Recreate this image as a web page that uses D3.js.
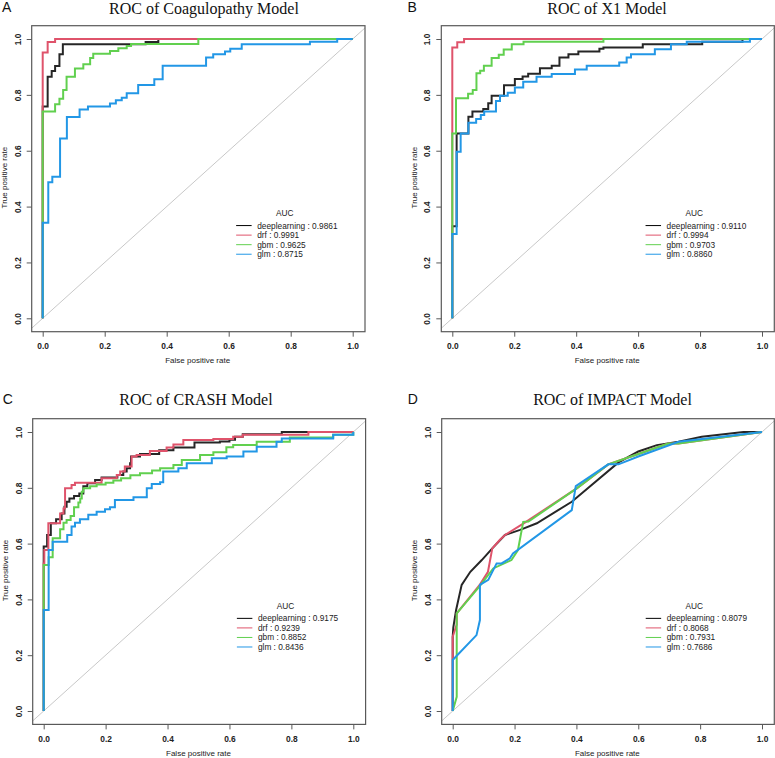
<!DOCTYPE html>
<html><head><meta charset="utf-8">
<script src="https://cdn.jsdelivr.net/npm/d3@7"></script>
<style>body{margin:0;background:#fff}svg{display:block}</style>
</head><body>
<svg id="c" width="775" height="758"></svg>
<script>
// ---------------- data ----------------
const models = ["deeplearning", "drf", "gbm", "glm"];
const modelColors = ["#000000", "#DF536B", "#61D04F", "#2297E6"];
const panelLetters = ["A", "B", "C", "D"];
const panelTitles = ["ROC of Coagulopathy Model", "ROC of X1 Model", "ROC of CRASH Model", "ROC of IMPACT Model"];
const aucA = [0.9861, 0.9991, 0.9625, 0.8715];
const aucB = [0.9110, 0.9994, 0.9703, 0.8860];
const aucC = [0.9175, 0.9239, 0.8852, 0.8436];
const aucD = [0.8079, 0.8068, 0.7931, 0.7686];
const tickValues = [0, 0.2, 0.4, 0.6, 0.8, 1.0];
const tickLabels = ["0.0", "0.2", "0.4", "0.6", "0.8", "1.0"];
const xLabel = "False positive rate";
const yLabel = "True positive rate";
const legendTitle = "AUC";

// ROC points [fpr, tpr]; panels A-C are step curves (right, then up)
const A_deeplearning = [[0,0],[0,.758],[.016,.865],[.029,.885],[.04,.903],[.054,.945],[.065,.981],[.332,.989],[.373,1],[1,1]];
const A_drf = [[0,0],[0,.952],[.016,.989],[.04,1],[1,1]];
const A_gbm = [[0,0],[0,.74],[.04,.766],[.054,.786],[.066,.817],[.077,.865],[.104,.894],[.131,.91],[.153,.932],[.163,.947],[.217,.957],[.244,.967],[.271,.975],[.285,.982],[.502,1],[1,1]];
const A_glm = [[0,0],[0,.342],[.018,.487],[.031,.507],[.056,.644],[.078,.721],[.119,.748],[.146,.758],[.217,.769],[.236,.781],[.255,.79],[.271,.806],[.308,.835],[.36,.856],[.387,.904],[.527,.934],[.55,.945],[.588,.955],[.605,.965],[.642,.981],[.862,.99],[.95,1],[1,1]];

const B_deeplearning = [[0,0],[0,.33],[.014,.662],[.052,.722],[.065,.74],[.1,.749],[.116,.77],[.127,.797],[.167,.834],[.202,.857],[.227,.866],[.245,.876],[.283,.895],[.321,.904],[.346,.934],[.375,.945],[.407,.955],[.475,.965],[.488,.97],[.615,.981],[.807,.99],[.937,1],[1,1]];
const B_drf = [[0,0],[0,.97],[.016,.988],[.038,1],[1,1]];
const B_gbm = [[0,0],[0,.662],[.012,.788],[.051,.804],[.066,.817],[.078,.877],[.09,.886],[.102,.904],[.127,.932],[.15,.944],[.166,.962],[.192,.981],[.23,.99],[.488,1],[1,1]];
const B_glm = [[0,0],[0,.302],[.014,.596],[.027,.662],[.052,.70],[.077,.714],[.092,.728],[.103,.74],[.141,.778],[.154,.797],[.179,.808],[.202,.826],[.229,.847],[.272,.865],[.321,.875],[.396,.891],[.434,.904],[.539,.916],[.563,.934],[.577,.945],[.654,.963],[.706,.981],[.757,.99],[.961,1],[1,1]];

const C_deeplearning = [[0,0],[0,.59],[.011,.631],[.023,.673],[.04,.687],[.058,.708],[.067,.732],[.074,.75],[.083,.762],[.098,.771],[.115,.78],[.128,.806],[.141,.816],[.166,.828],[.187,.837],[.238,.846],[.257,.858],[.268,.87],[.279,.888],[.282,.912],[.311,.921],[.373,.935],[.419,.944],[.487,.962],[.569,.966],[.6,.972],[.618,.983],[.643,.992],[.769,1],[1,1]];
const C_drf = [[0,0],[0,.529],[.002,.577],[.015,.673],[.053,.708],[.064,.726],[.069,.798],[.09,.81],[.101,.818],[.187,.834],[.236,.846],[.247,.858],[.262,.876],[.284,.912],[.3,.918],[.343,.932],[.397,.944],[.419,.955],[.451,.971],[.548,.975],[.612,.983],[.643,.99],[.855,1],[1,1]];
const C_gbm = [[0,0],[0,.523],[.016,.551],[.029,.619],[.053,.651],[.064,.675],[.074,.685],[.087,.699],[.098,.73],[.112,.747],[.118,.762],[.123,.786],[.128,.798],[.15,.806],[.171,.812],[.2,.818],[.225,.826],[.25,.834],[.28,.845],[.311,.852],[.35,.862],[.376,.87],[.419,.882],[.446,.9],[.505,.918],[.548,.927],[.59,.945],[.612,.953],[.688,.965],[.795,.98],[.935,.99],[1,1]];
const C_glm = [[0,0],[0,.362],[.016,.577],[.029,.607],[.076,.631],[.09,.661],[.101,.675],[.117,.687],[.144,.703],[.171,.714],[.198,.723],[.214,.73],[.23,.756],[.29,.766],[.333,.798],[.349,.814],[.376,.82],[.386,.858],[.435,.87],[.462,.888],[.543,.906],[.591,.912],[.645,.93],[.688,.947],[.752,.965],[.769,.977],[.935,.99],[1,1]];

// panel D: piecewise linear curves
const D_deeplearning = [[0,0],[0,.266],[.002,.30],[.011,.362],[.029,.452],[.057,.499],[.094,.541],[.128,.583],[.169,.631],[.218,.649],[.272,.673],[.385,.75],[.536,.891],[.6,.93],[.66,.953],[.73,.965],[.805,.983],[.94,1],[1,1]];
const D_drf = [[0,0],[0,.266],[.013,.31],[.013,.35],[.086,.45],[.114,.499],[.128,.583],[.152,.613],[.169,.631],[.237,.678],[.401,.798],[.503,.884],[.6,.921],[.697,.959],[.73,.959],[1,1]];
const D_gbm = [[0,0],[.013,.051],[.013,.35],[.086,.446],[.131,.511],[.19,.541],[.211,.577],[.228,.678],[.245,.679],[.401,.798],[.503,.884],[.6,.921],[.697,.959],[.73,.959],[1,1]];
const D_glm = [[0,0],[0,.183],[.077,.272],[.088,.326],[.088,.452],[.115,.47],[.142,.529],[.158,.529],[.185,.547],[.195,.565],[.385,.72],[.398,.806],[.503,.884],[.536,.884],[.6,.912],[.73,.965],[1,1]];

const panelCurves = [
  [A_deeplearning, A_drf, A_gbm, A_glm],
  [B_deeplearning, B_drf, B_gbm, B_glm],
  [C_deeplearning, C_drf, C_gbm, C_glm],
  [D_deeplearning, D_drf, D_gbm, D_glm]
];
const panelAUC = [aucA, aucB, aucC, aucD];
const panelStep = [true, true, true, false];

// ---------------- layout ----------------
const layout = [
  {xr:[42.7,352.7], yr:[318.3,39], titleX:204, titleY:14.3, letterX:2, letterY:12},
  {xr:[452.3,762], yr:[318.3,39], titleX:607, titleY:14.3, letterX:407.5, letterY:12},
  {xr:[43.7,353.3], yr:[711,432], titleX:196, titleY:404.6, letterX:2.7, letterY:404.3},
  {xr:[452.7,762], yr:[711,432], titleX:612.5, titleY:404.6, letterX:407.7, letterY:404.3}
];

const svg = d3.select("#c");
const sans = "'Liberation Sans', Arial, sans-serif";
const serif = "'Liberation Serif', 'Times New Roman', serif";

layout.forEach((L, p) => {
  const x = d3.scaleLinear().domain([0,1]).range(L.xr);
  const y = d3.scaleLinear().domain([0,1]).range(L.yr);
  const left = L.xr[0] - 11, right = L.xr[1] + 12.3, top = L.yr[1] - 13.3, bottom = L.yr[0] + 13.4;
  const g = svg.append("g");

  const clipId = "clip" + p;
  svg.append("clipPath").attr("id", clipId)
    .append("rect").attr("x", left).attr("y", top).attr("width", right-left).attr("height", bottom-top);

  // diagonal
  const diag = [-0.2, 1.2];
  g.append("line").attr("clip-path", `url(#${clipId})`)
    .attr("x1", x(diag[0])).attr("y1", y(diag[0])).attr("x2", x(diag[1])).attr("y2", y(diag[1]))
    .attr("stroke", "#c8c8c8").attr("stroke-width", 1);

  // curves
  const line = d3.line().x(d => x(d[0])).y(d => y(d[1]))
    .curve(panelStep[p] ? d3.curveStepAfter : d3.curveLinear);
  panelCurves[p].forEach((pts, i) => {
    g.append("path").attr("clip-path", `url(#${clipId})`)
      .attr("d", line(pts)).attr("fill", "none")
      .attr("stroke", modelColors[i]).attr("stroke-width", 2)
      .attr("stroke-linejoin", "miter").attr("stroke-opacity", i === 0 ? 0.85 : 1);
  });

  // box
  g.append("rect").attr("x", left).attr("y", top).attr("width", right-left).attr("height", bottom-top)
    .attr("fill", "none").attr("stroke", "#595959").attr("stroke-width", 1.2);

  // x axis
  const xa = g.append("g").attr("transform", `translate(0,${bottom})`)
    .call(d3.axisBottom(x).tickValues(tickValues).tickFormat((d, i) => tickLabels[i]).tickSize(5));
  xa.select(".domain").remove();
  xa.selectAll("line").attr("stroke", "#595959");
  xa.selectAll("text").attr("y", 17.5).attr("dy", 0)
    .style("font-family", sans).style("font-size", "8.4px").style("font-weight", "bold").attr("fill", "#222");

  // y axis
  const ya = g.append("g").attr("transform", `translate(${left},0)`)
    .call(d3.axisLeft(y).tickValues(tickValues).tickFormat((d, i) => tickLabels[i]).tickSize(5));
  ya.select(".domain").remove();
  ya.selectAll("line").attr("stroke", "#595959");
  ya.selectAll("text").attr("transform", "rotate(-90)").attr("x", 0).attr("y", -11).attr("dy", 0)
    .attr("text-anchor", "middle")
    .style("font-family", sans).style("font-size", "8.4px").style("font-weight", "bold").attr("fill", "#222");

  // axis titles
  g.append("text").attr("x", (L.xr[0]+L.xr[1])/2).attr("y", bottom + 31.4)
    .attr("text-anchor", "middle").style("font-family", sans).style("font-size", "8px").attr("fill", "#222")
    .text(xLabel);
  g.append("text").attr("transform", `translate(${left - 24.5},${(L.yr[0]+L.yr[1])/2 - 1}) rotate(-90)`)
    .attr("text-anchor", "middle").style("font-family", sans).style("font-size", "8px").attr("fill", "#222")
    .text(yLabel);

  // title and letter
  g.append("text").attr("x", L.titleX).attr("y", L.titleY).attr("text-anchor", "middle")
    .style("font-family", serif).style("font-size", "16px").attr("fill", "#111").text(panelTitles[p]);
  g.append("text").attr("x", L.letterX).attr("y", L.letterY)
    .style("font-family", sans).style("font-size", "14px").attr("fill", "#111").text(panelLetters[p]);

  // legend
  const lg = g.append("g");
  lg.append("text").attr("x", x(0.781)).attr("y", y(0.377) + 3).attr("text-anchor", "middle")
    .style("font-family", sans).style("font-size", "8.3px").attr("fill", "#222").text(legendTitle);
  models.forEach((m, i) => {
    const ty = 0.332 - i * 0.0342;
    lg.append("line").attr("x1", x(0.624)).attr("x2", x(0.674)).attr("y1", y(ty)).attr("y2", y(ty))
      .attr("stroke", modelColors[i]).attr("stroke-width", 1);
    lg.append("text").attr("x", x(0.692)).attr("y", y(ty) + 3)
      .style("font-family", sans).style("font-size", "8.3px").attr("fill", "#222")
      .text(`${m} : ${panelAUC[p][i].toFixed(4)}`);
  });
});
</script>
</body></html>
